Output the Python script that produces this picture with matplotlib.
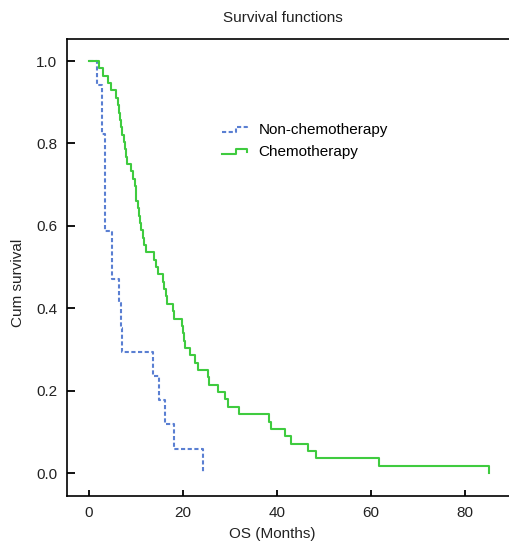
import matplotlib
matplotlib.use("Agg")
import matplotlib.pyplot as plt
from matplotlib.lines import Line2D
from matplotlib.legend_handler import HandlerBase

plt.rcParams['font.family'] = ['Liberation Sans', 'DejaVu Sans']

# Kaplan-Meier step data (time in months, cumulative survival)
nonchemo_times = [0, 1.8, 2.7, 3.4, 5.0, 6.4, 6.8, 7.1, 13.6, 14.9, 16.2, 18.1, 24.2]
nonchemo_surv = [1.0, 0.941, 0.824, 0.588, 0.471, 0.412, 0.353, 0.294, 0.235, 0.176, 0.118, 0.059, 0.0]

chemo_times = [0, 2.2, 3.0, 4.1, 4.6, 5.8, 6.1, 6.4, 6.6, 6.8, 7.0, 7.4, 7.7, 7.9, 8.0,
               8.9, 9.4, 9.8, 10.0, 10.1, 10.4, 10.6, 10.9, 11.1, 11.4, 11.7, 12.2,
               13.8, 14.2, 14.6, 15.7, 16.0, 16.3, 16.6, 17.8, 18.1, 19.7, 20.0, 20.2,
               20.5, 21.5, 22.5, 23.2, 25.3, 25.6, 27.4, 29.0, 29.5, 32.0, 38.4, 38.8,
               41.6, 42.9, 46.6, 48.3, 61.8, 85.1]
chemo_surv = [1.0, 0.982, 0.964, 0.946, 0.929, 0.911, 0.893, 0.875, 0.857, 0.839, 0.821,
              0.804, 0.786, 0.768, 0.750, 0.732, 0.714, 0.696, 0.679, 0.661, 0.643, 0.625,
              0.607, 0.589, 0.571, 0.554, 0.536, 0.518, 0.500, 0.482, 0.464, 0.446, 0.429,
              0.411, 0.393, 0.375, 0.357, 0.339, 0.321, 0.304, 0.286, 0.268, 0.250, 0.232,
              0.214, 0.196, 0.179, 0.161, 0.143, 0.125, 0.107, 0.089, 0.071, 0.054, 0.036,
              0.018, 0.0]

labels = ["Non-chemotherapy", "Chemotherapy"]
xticks = [0, 20, 40, 60, 80]
yticks = [0.0, 0.2, 0.4, 0.6, 0.8, 1.0]

BLUE = '#5a7fd2'
GREEN = '#3fcb3f'
BLUE_DASH = (0, (2.0, 1.2))

W, H = 509, 543
fig = plt.figure(figsize=(W / 100, H / 100), dpi=100)
ax = fig.add_axes([67 / W, 1 - 496 / H, 1 - 67 / W, (496 - 39) / H])

ax.step(nonchemo_times, nonchemo_surv, where='post', color=BLUE, lw=1.5,
        linestyle=BLUE_DASH, label=labels[0])
ax.step(chemo_times, chemo_surv, where='post', color=GREEN, lw=1.5,
        label=labels[1])

ax.set_xlim(-4.68, 89.36)
ax.set_ylim(-0.0558, 1.0534)
ax.set_xticks(xticks)
ax.set_yticks(yticks)
ax.set_yticklabels([f"{v:.1f}" for v in yticks])
ax.tick_params(axis='y', direction='in', length=6, width=1.3, labelsize=11, pad=7,
               labelcolor='#222222')
ax.tick_params(axis='x', direction='in', length=4.5, width=1.3, labelsize=11, pad=7,
               labelcolor='#222222')
for s in ['left', 'bottom', 'top']:
    ax.spines[s].set_linewidth(1.2)
ax.spines['right'].set_visible(False)


class StepHandler(HandlerBase):
    def __init__(self, color, ls):
        super().__init__()
        self.color = color
        self.ls = ls

    def create_artists(self, legend, orig_handle, xdescent, ydescent, width, height,
                       fontsize, trans):
        x0 = -xdescent
        xs = [x0, x0 + 0.5 * width, x0 + 0.5 * width, x0 + 0.9 * width, x0 + 0.9 * width]
        ys = [0.2 * height, 0.2 * height, 0.7 * height, 0.7 * height, 0.45 * height]
        ln = Line2D(xs, ys, color=self.color, linestyle=self.ls, lw=1.5)
        ln.set_transform(trans)
        return [ln]


h_blue = Line2D([], [], color=BLUE)
h_green = Line2D([], [], color=GREEN)
fig.legend([h_blue, h_green], labels, loc='upper left',
           bbox_to_anchor=(222 / W, 1 - 123 / H), frameon=False, fontsize=11,
           borderpad=0, borderaxespad=0, handlelength=1.8, handletextpad=0.6,
           labelspacing=0.55,
           handler_map={h_blue: StepHandler(BLUE, BLUE_DASH),
                        h_green: StepHandler(GREEN, '-')})

fig.text(283 / W, 1 - 18 / H, "Survival functions", ha='center', va='center',
         fontsize=11, color='#222222')
fig.text(272 / W, 1 - 534 / H, "OS (Months)", ha='center', va='center',
         fontsize=11, color='#222222')
fig.text(18 / W, 1 - 283 / H, "Cum survival", ha='center', va='center',
         rotation=90, fontsize=11, color='#222222')

fig.savefig("out.png", dpi=100)
